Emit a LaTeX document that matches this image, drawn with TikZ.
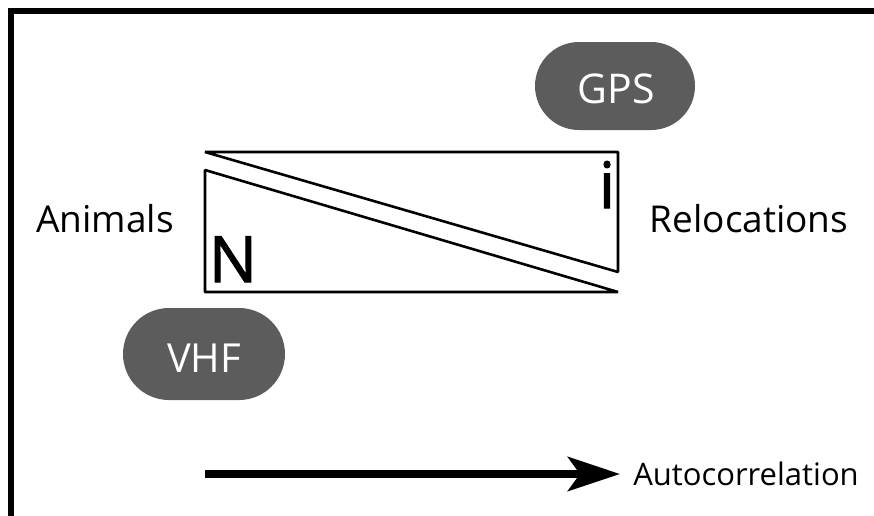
\documentclass[tikz,border=0pt]{standalone}
\usepackage{fontspec}
\setmainfont{Open Sans}
\newfontfamily\boxletters[FakeBold=1.6]{Open Sans}
\usetikzlibrary{arrows.meta}
\definecolor{capgray}{HTML}{5C5C5C}
\tikzset{
  lbl/.style={anchor=base, inner sep=0pt, text=black},
  capsule/.style={fill=capgray, draw=none},
  captext/.style={anchor=base, inner sep=0pt, text=white},
  tri/.style={draw=black, line width=2.6pt, line join=bevel}
}
\begin{document}
\begin{tikzpicture}[x=1pt, y=-1pt]
\useasboundingbox (0,0) rectangle (874,515);
% frame
\draw[line width=6pt] (11,520) -- (11,11) -- (880,11);
% capsules
\fill[capsule, rounded corners=44pt] (535,42) rectangle (695,130);
\fill[capsule, rounded corners=46pt] (123,308) rectangle (285,400);
\node[captext, font=\fontsize{41}{41}\selectfont] (gps) at (616,103) {GPS};
\node[captext, font=\fontsize{40}{40}\selectfont] (vhf) at (204,372) {VHF};
% triangles
\coordinate (ua) at (205,152);
\coordinate (ub) at (618,152);
\coordinate (uc) at (618,272);
\coordinate (la) at (205,170);
\coordinate (lb) at (205,292);
\coordinate (lc) at (618,292);
\draw[tri] (ua) -- (ub) -- (uc) -- cycle;
\draw[tri] (la) -- (lb) -- (lc) -- cycle;
\node[lbl, font=\boxletters\fontsize{64}{64}\selectfont] (n) at (233,282) {N};
\node[lbl, font=\boxletters\fontsize{64}{64}\selectfont] (i) at (607,208) {i};
% side labels
\node[lbl, font=\fontsize{37}{37}\selectfont] (animals) at (105,232) {Animals};
\node[lbl, font=\fontsize{37}{37}\selectfont] (reloc) at (749,232) {Relocations};
% arrow
\node[lbl, font=\fontsize{31}{31}\selectfont] (auto) at (746,485) {Autocorrelation};
\coordinate (astart) at (205,474);
\coordinate (aend) at (620,474);
\draw[line width=8pt, -{Stealth[length=52pt, width=34pt, inset=12pt]}] (astart) -- (aend);
\end{tikzpicture}
\end{document}
